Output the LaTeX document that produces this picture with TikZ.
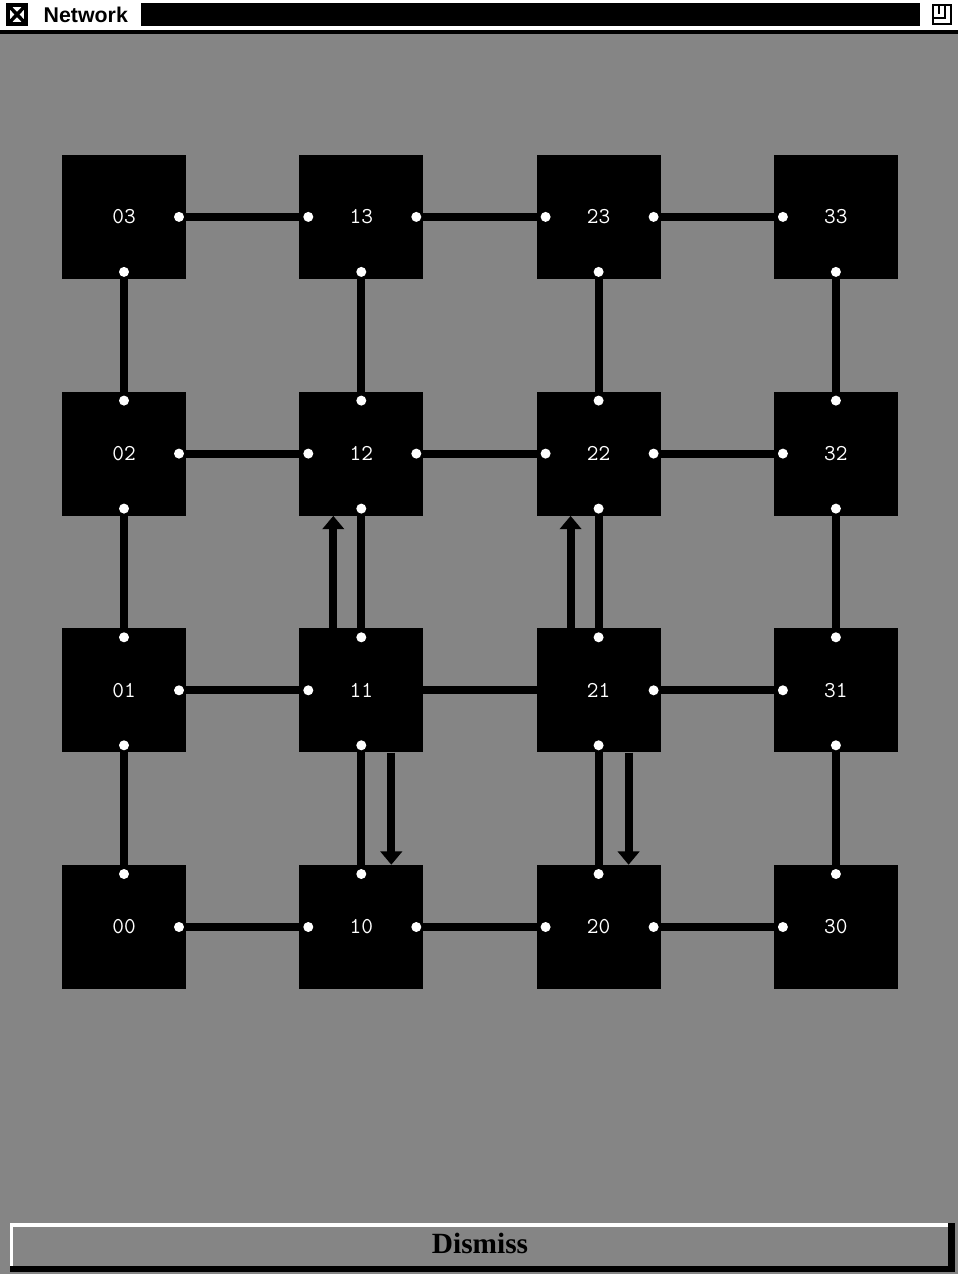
\documentclass[tikz,border=0pt]{standalone}
\usepackage{fontspec}
\newfontfamily\titlefont{Liberation Sans}
\newfontfamily\buttonfont{Liberation Serif}
\usetikzlibrary{arrows.meta}
\definecolor{screen}{gray}{0.52}
\begin{document}
\begin{tikzpicture}[x=0.75pt,y=-0.75pt,
    box/.style={fill=black,minimum size=93pt,inner sep=0pt,text=white,
      font=\fontsize{17}{17}\selectfont\ttfamily},
    dot/.style={circle,fill=white,inner sep=0pt,minimum size=7.5pt},
    link/.style={line width=6pt},
    flow/.style={line width=6pt,-{Triangle[width=16pt,length=10pt]}}]
    \useasboundingbox (0,0) rectangle (958,1274);
    % window
    \fill[screen] (0,0) rectangle (958,1274);
    \fill[white] (0,0) rectangle (958,30);
    \fill[black] (0,30) rectangle (958,34);
    \fill[black] (141,3) rectangle (920,26);
    \draw[line width=2.6pt] (8,5) rectangle (26,24);
    \draw[line width=2.6pt] (8,5) -- (26,24) (8,24) -- (26,5);
    \draw[line width=1.8pt] (933,5) rectangle (951,24);
    \draw[line width=1.8pt] (939,5) -- (939,14) (945,5) -- (945,18) -- (933,18);
    \node[font=\titlefont\bfseries\fontsize{16}{16}\selectfont,anchor=west] (title) at (39,15) {Network};
    % routers
    \foreach \i in {0,...,3}
      \foreach \j in {0,...,3}
        \node[box] (n\i\j) at ({124+237.3*\i},{927-236.7*\j}) {\i\j};
    % links along x
    \foreach \a/\b in {00/10,10/20,20/30,01/11,21/31,02/12,12/22,22/32,03/13,13/23,23/33} {
      \path (n\a) ++(55,0) node[dot] (e\a) {};
      \path (n\b) ++(-53,0) node[dot] (w\b) {};
      \draw[link] (e\a) -- (w\b);
    }
    \draw[link,shorten <=-3pt,shorten >=-3pt] (n11.east) -- (n21.west);
    % links along y
    \foreach \a/\b in {03/02,02/01,01/00,13/12,12/11,11/10,23/22,22/21,21/20,33/32,32/31,31/30} {
      \path (n\a) ++(0,55) node[dot] (s\a) {};
      \path (n\b) ++(0,-53) node[dot] (u\b) {};
      \draw[link] (s\a) -- (u\b);
    }
    % traffic
    \draw[flow] ([xshift=-21pt]n11.north) -- ([xshift=-21pt]n12.south);
    \draw[flow] ([xshift=22.5pt]n11.south) -- ([xshift=22.5pt]n10.north);
    \draw[flow] ([xshift=-21pt]n21.north) -- ([xshift=-21pt]n22.south);
    \draw[flow] ([xshift=22.5pt]n21.south) -- ([xshift=22.5pt]n20.north);
    % button
    \fill[white] (10,1223) rectangle (952,1227);
    \fill[white] (10,1223) rectangle (13,1268);
    \fill[black] (10,1266) rectangle (955,1272);
    \fill[black] (948,1223) rectangle (955,1272);
    \node[font=\buttonfont\bfseries\fontsize{22}{22}\selectfont] (dismiss) at (480,1243) {Dismiss};
\end{tikzpicture}
\end{document}
